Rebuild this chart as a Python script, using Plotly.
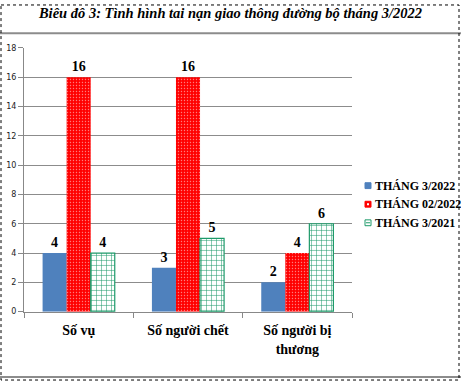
import plotly.graph_objects as go

categories = ["Số vụ", "Số người chết", "Số người bị<br>thương"]
series_names = ["THÁNG 3/2022", "THÁNG 02/2022", "THÁNG 3/2021"]
s2022_03 = [4, 3, 2]
s2022_02 = [16, 16, 4]
s2021_03 = [4, 5, 6]
y_ticks = [0, 2, 4, 6, 8, 10, 12, 14, 16, 18]

W, H = 461, 386
PL, PR, PT, PB = 24, 352, 45, 315  # plot area in pixels

BLUE = "#4F81BD"
RED = "#FF0000"
GREEN = "#1E9A6A"


def fx(p):
    return p / W


def fy(p):
    return (H - p) / H


label_font = dict(family="Liberation Serif", size=14, color="black")
tmpl = "<b>%{y}</b>"

fig = go.Figure()
fig.add_bar(
    x=categories, y=s2022_03, name=series_names[0],
    marker=dict(color=BLUE, line=dict(width=0)),
    texttemplate=tmpl, textposition="outside", textfont=label_font,
    cliponaxis=False,
)
fig.add_bar(
    x=categories, y=s2022_02, name=series_names[1],
    marker=dict(color=RED, line=dict(width=0),
                pattern=dict(shape=".", fgcolor="white", bgcolor=RED,
                             size=3, solidity=0.18, fillmode="overlay")),
    texttemplate=tmpl, textposition="outside", textfont=label_font,
    cliponaxis=False,
)
fig.add_bar(
    x=categories, y=s2021_03, name=series_names[2],
    marker=dict(color="white", line=dict(width=1.2, color=GREEN),
                pattern=dict(shape="+", fgcolor=GREEN, bgcolor="white",
                             size=5, solidity=0.2, fillmode="replace")),
    texttemplate=tmpl, textposition="outside", textfont=label_font,
    cliponaxis=False,
)

fig.update_layout(
    width=W, height=H, autosize=False, showlegend=False,
    margin=dict(l=0, r=0, t=0, b=0, pad=0),
    paper_bgcolor="white", plot_bgcolor="white",
    barmode="group", bargap=0.34, bargroupgap=0,
    font=dict(family="Liberation Serif", color="black"),
    title=dict(
        text="<b><i>Biêu đô 3: Tình hình tai nạn giao thông đường bộ tháng 3/2022</i></b>",
        x=0.5, xref="container", xanchor="center",
        y=1 - 13 / H, yref="container", yanchor="middle",
        font=dict(family="Liberation Serif", size=14.5, color="black"),
    ),
    xaxis=dict(
        domain=[fx(PL), fx(PR)],
        type="category", showgrid=False,
        showline=True, linecolor="#888888", linewidth=1,
        ticks="outside", tickson="boundaries", ticklen=5, tickcolor="#888888",
        tickfont=dict(family="Liberation Serif", size=14, color="black"),
        tickvals=categories, ticktext=["<b>" + c + "</b>" for c in categories],
        ticklabelstandoff=6,
    ),
    yaxis=dict(
        domain=[fy(PB), fy(PT)],
        range=[0, 18], tickvals=y_ticks,
        showgrid=True, gridcolor="#8C8C8C", gridwidth=1,
        showline=True, linecolor="#888888", linewidth=1,
        ticks="outside", ticklen=5, tickcolor="#888888",
        tickfont=dict(family="DejaVu Sans", size=8, color="#222222"),
        zeroline=False,
    ),
)

# manual legend (keeps everything inside the 461px page)
legend_rows = [186, 205, 224]
legend_styles = [
    dict(fill=BLUE, line=BLUE),
    dict(fill=RED, line=RED),
    dict(fill="white", line=GREEN),
]
for name, yc, st in zip(series_names, legend_rows, legend_styles):
    fig.add_shape(type="rect", xref="paper", yref="paper",
                  x0=fx(365), x1=fx(371), y0=fy(yc + 3), y1=fy(yc - 3),
                  fillcolor=st["fill"], line=dict(color=st["line"], width=1))
    fig.add_annotation(xref="paper", yref="paper", x=fx(373), y=fy(yc),
                       xanchor="left", yanchor="middle", showarrow=False,
                       text="<b>" + name + "</b>",
                       font=dict(family="Liberation Serif", size=12, color="black"))
fig.add_shape(type="line", xref="paper", yref="paper",
              x0=fx(366), x1=fx(370), y0=fy(224), y1=fy(224),
              line=dict(color=GREEN, width=1))
fig.add_shape(type="rect", xref="paper", yref="paper",
              x0=fx(367), x1=fx(369), y0=fy(206), y1=fy(204),
              fillcolor="white", line=dict(width=0))

# frame lines: separator under title, bottom line, dotted border
fig.add_shape(type="line", xref="paper", yref="paper",
              x0=0, x1=1, y0=fy(30), y1=fy(30),
              line=dict(color="#8C8C8C", width=2))
fig.add_shape(type="line", xref="paper", yref="paper",
              x0=0, x1=1, y0=fy(382), y1=fy(382),
              line=dict(color="#8C8C8C", width=2))
fig.add_shape(type="rect", xref="paper", yref="paper",
              x0=fx(1), x1=fx(W - 2), y0=fy(1), y1=fy(H - 1),
              line=dict(color="black", width=1, dash="dot"))

fig.write_html(
    "out.html",
    config={"responsive": False, "displayModeBar": False},
    post_script=(
        "document.body.style.margin='0px';"
        "document.body.style.lineHeight='0';"
        "document.body.style.fontSize='0';"
        "document.body.style.overflow='hidden';"
        "document.documentElement.style.overflow='hidden';"
    ),
)
